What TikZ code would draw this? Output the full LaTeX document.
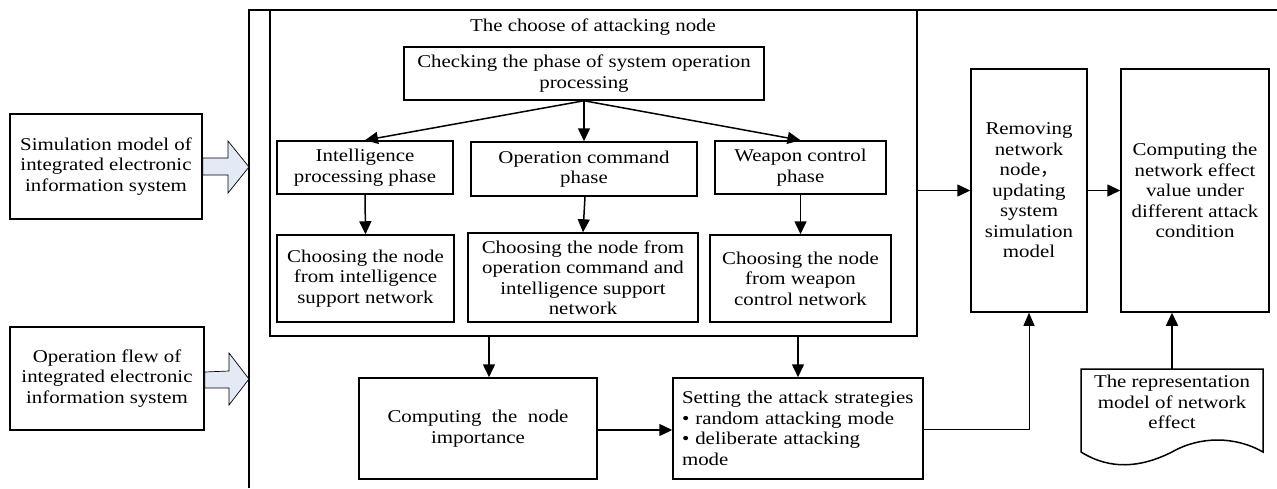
\documentclass[tikz,border=0pt]{standalone}
\usepackage{fontspec}
\setmainfont[FakeStretch=1.16]{Liberation Serif}
\newfontfamily\cjkfont{Noto Sans CJK SC}
\usetikzlibrary{arrows.meta,calc}
\newcommand\diagfont{\fontsize{18}{20.5}\selectfont}
\definecolor{arrowfill}{HTML}{E3EAF6}
\tikzset{
  box/.style={draw, line width=1.5pt, align=center, inner sep=0pt, font=\diagfont},
  plain/.style={align=center, inner sep=0pt, font=\diagfont},
  arr/.style={line width=1.5pt, -{Triangle[length=13pt,width=12pt]}},
  thinarr/.style={line width=0.9pt, -{Triangle[length=13pt,width=11pt]}},
  link/.style={line width=1.5pt},
  blockarrow/.style={draw, line width=0.7pt, fill=arrowfill, line join=miter},
}
\begin{document}
\begin{tikzpicture}[x=1pt,y=-1pt]
\useasboundingbox (0,0) rectangle (1277,488);

% outer frame (open to the right and bottom)
\coordinate (fbl) at (249,488);
\coordinate (ftl) at (249,10);
\coordinate (ftr) at (1277,10);
\draw[link] (fbl) -- (ftl) -- (ftr);

% input boxes
\node[box, minimum width=192pt, minimum height=105pt] (sim) at (106,166.5)
  {Simulation model of\\integrated electronic\\information system};
\node[box, minimum width=194pt, minimum height=103pt] (flew) at (107,378.5)
  {Operation flew of\\integrated electronic\\information system};

% block arrows into the frame
\draw[blockarrow] (sim.east |- 0,158) -- (228,158) -- (228,141) -- (ftl |- 0,167)
  -- (228,193) -- (228,175) -- (sim.east |- 0,175) -- cycle;
\draw[blockarrow] (flew.east |- 0,372) -- (229,371) -- (229,353) -- (ftl |- 0,379)
  -- (229,405) -- (229,388) -- (flew.east |- 0,388) -- cycle;

% node selection block
\node[draw, line width=1.5pt, minimum width=647pt, minimum height=326pt, inner sep=0pt] (sel) at (593.5,173) {};
\node[plain] (seltitle) at (593,27) {The choose of attacking node};

\node[box, minimum width=360pt, minimum height=53pt] (check) at (584,73.5)
  {Checking the phase of system operation\\processing};

\node[box, minimum width=176pt, minimum height=53pt] (ip) at (365,167.5)
  {Intelligence\\processing phase};
\node[box, minimum width=226pt, minimum height=54pt] (oc) at (584,169)
  {Operation command\\phase};
\node[box, minimum width=171pt, minimum height=53pt] (wc) at (800.5,167.5)
  {Weapon control\\phase};

\node[box, minimum width=177pt, minimum height=87pt] (ci) at (365.5,278.5)
  {Choosing the node\\from intelligence\\support network};
\node[box, minimum width=230pt, minimum height=89pt] (coc) at (583,277.5)
  {Choosing the node from\\operation command and\\intelligence support\\network};
\node[box, minimum width=181pt, minimum height=87pt] (cw) at (800.5,278.5)
  {Choosing the node\\from weapon\\control network};

\draw[arr] (check.south) -- (ip.north);
\draw[arr] (check.south) -- (oc.north);
\draw[arr] (check.south) -- (wc.north);
\draw[arr] (ip.south) -- (ci.north);
\draw[arr] ([xshift=1pt]oc.south) -- (coc.north);
\draw[arr] (wc.south) -- (cw.north);

% lower row
\node[box, minimum width=238pt, minimum height=101pt] (imp) at (478,428.5)
  {Computing\ \ the\ \ node\\importance};
\node[box, minimum width=250pt, minimum height=101pt, text width=232pt, align=left] (set) at (798,428.5)
  {Setting the attack strategies\\• random attacking mode\\• deliberate attacking\\mode};

\coordinate (impin) at (489,0);
\draw[arr] (sel.south -| impin) -- (imp.north -| impin);
\draw[arr] (sel.south -| set.north) -- (set.north);
\draw[arr] (imp.east |- 0,430) -- (set.west |- 0,430);

% right-hand column
\node[box, minimum width=116pt, minimum height=243pt] (rem) at (1029,190.5)
  {Removing\\network\\node{\cjkfont ，}\\updating\\system\\simulation\\model};
\node[box, minimum width=148pt, minimum height=243pt] (eff) at (1195,190.5)
  {Computing the\\network effect\\value under\\different attack\\condition};

\draw[arr] (sel.east |- rem.west) -- (rem.west);
\draw[arr] (rem.east) -- (eff.west);
\draw[thinarr] (set.east |- 0,429) -| (rem.south);

% document symbol
\coordinate (doctop) at (1172,369);
\draw[link, line join=miter] (1081,369) -- (1263,369) -- (1263,452)
  .. controls (1235,436) and (1200,436) .. (1172,452)
  .. controls (1140,468) and (1110,470) .. (1081,452) -- cycle;
\node[plain] (doc) at (1172,402) {The representation\\model of network\\effect};
\draw[arr] (doctop) -- (eff.south -| doctop);

\end{tikzpicture}
\end{document}
